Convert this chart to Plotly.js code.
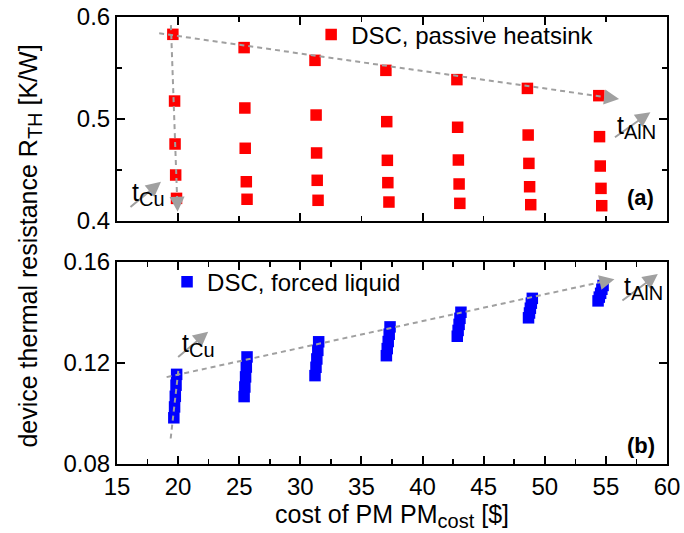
<!DOCTYPE html>
<html><head><meta charset="utf-8">
<script src="https://cdn.plot.ly/plotly-3.0.1.min.js"></script>
<style>html,body{margin:0;padding:0;background:#fff}</style>
</head><body><div id="chart" style="width:684px;height:533px"></div>
<script>
// Passive heatsink (top panel): 7 AlN thickness groups x 5 Cu thicknesses
const passiveCost = [
  19.57, 19.71, 19.75, 19.80, 19.87,
  25.40, 25.46, 25.49, 25.58, 25.64,
  31.20, 31.29, 31.33, 31.38, 31.45,
  37.00, 37.07, 37.12, 37.16, 37.25,
  42.81, 42.87, 42.93, 42.99, 43.05,
  48.58, 48.64, 48.70, 48.76, 48.85,
  54.42, 54.48, 54.54, 54.60, 54.66
];
const passiveRth = [
  0.583, 0.5176, 0.4755, 0.4451, 0.4222,
  0.570, 0.5108, 0.4713, 0.4385, 0.4213,
  0.5575, 0.5039, 0.4667, 0.4399, 0.4203,
  0.5477, 0.4974, 0.4595, 0.4376, 0.4186,
  0.5386, 0.4919, 0.4598, 0.4363, 0.4173,
  0.530, 0.4843, 0.4565, 0.4336, 0.4160,
  0.5229, 0.4827, 0.4539, 0.4320, 0.4150
];
// Forced liquid (bottom panel)
const liquidCost = [
  19.88, 19.83, 19.77, 19.71, 19.65,
  25.64, 25.58, 25.52, 25.46, 25.40,
  31.50, 31.43, 31.35, 31.28, 31.20,
  37.34, 37.27, 37.19, 37.11, 37.04,
  43.14, 43.06, 42.99, 42.91, 42.84,
  48.98, 48.90, 48.82, 48.75, 48.67,
  54.77, 54.67, 54.57, 54.46, 54.36
];
const liquidRth = [
  0.1155, 0.1112, 0.1068, 0.1026, 0.0983,
  0.1224, 0.1184, 0.1145, 0.1105, 0.1067,
  0.1284, 0.1250, 0.1216, 0.1183, 0.1150,
  0.1343, 0.1314, 0.1285, 0.1257, 0.1229,
  0.1401, 0.1377, 0.1353, 0.1329, 0.1306,
  0.1456, 0.1437, 0.1417, 0.1398, 0.1379,
  0.1507, 0.1492, 0.1476, 0.1461, 0.1446
];
const seriesNames = ['DSC, passive heatsink', 'DSC, forced liquid'];
const SUB = (s) => '<sub><span style="font-size:20px">' + s + '</span></sub>';
const xTitle = 'cost of PM PM' + SUB('cost') + ' [$]';
const yTitle = 'device thermal resistance R' + SUB('TH') + ' [K/W]';

const FONT = 'Liberation Sans, Arial, sans-serif';
const GREY = 'rgb(160,160,160)';

const traces = [
  {x: passiveCost, y: passiveRth, xaxis: 'x2', yaxis: 'y2', type: 'scatter', mode: 'markers',
   name: seriesNames[0], legend: 'legend',
   marker: {symbol: 'square', size: 11.5, color: '#ff0000', line: {width: 0}}},
  {x: liquidCost, y: liquidRth, xaxis: 'x', yaxis: 'y', type: 'scatter', mode: 'markers',
   name: seriesNames[1], legend: 'legend2',
   marker: {symbol: 'square', size: 11.5, color: '#0000ff', line: {width: 0}}}
];

const axBase = {
  showline: true, linewidth: 2, linecolor: '#000', mirror: 'ticks',
  ticks: 'inside', ticklen: 8, tickwidth: 2, tickcolor: '#000',
  showgrid: false, zeroline: false,
  tickfont: {family: FONT, size: 24, color: '#000'}
};

function dashLine(xr, yr, x0, y0, x1, y1) {
  return {type: 'line', xref: xr, yref: yr, x0: x0, y0: y0, x1: x1, y1: y1,
          layer: 'above', line: {color: GREY, width: 2, dash: '5px,4px'}};
}
function head(xr, yr, x, y, ax, ay) {
  return {xref: xr, yref: yr, axref: xr, ayref: yr, x: x, y: y, ax: ax, ay: ay,
          text: '', showarrow: true, arrowhead: 2, arrowsize: 1.5, arrowwidth: 2, arrowcolor: GREY};
}
function txt(xr, yr, x, y, t, opts) {
  return Object.assign({xref: xr, yref: yr, x: x, y: y, text: t, showarrow: false,
    xanchor: 'left', yanchor: 'middle', font: {family: FONT, size: 25, color: '#000'}}, opts || {});
}

const layout = {
  width: 684, height: 533,
  margin: {l: 117, r: 17, t: 17, b: 69},
  paper_bgcolor: '#fff', plot_bgcolor: '#fff',
  font: {family: FONT, color: '#000'},
  showlegend: true,
  xaxis: Object.assign({}, axBase, {
    domain: [0, 1], range: [15, 60], anchor: 'y', dtick: 5, tick0: 15,
    minor: {dtick: 2.5, ticks: 'inside', ticklen: 5, tickwidth: 1.5, tickcolor: '#000'},
    title: {text: xTitle, font: {family: FONT, size: 25, color: '#000'}, standoff: 2}
  }),
  xaxis2: Object.assign({}, axBase, {
    domain: [0, 1], range: [15, 60], anchor: 'y2', dtick: 10, tick0: 20,
    showticklabels: false,
    minor: {dtick: 5, ticks: 'inside', ticklen: 5, tickwidth: 1.5, tickcolor: '#000'}
  }),
  yaxis: Object.assign({}, axBase, {
    domain: [0, 0.4519], range: [0.08, 0.16], anchor: 'x', dtick: 0.04, tick0: 0.08,
    tickformat: '.2f'
  }),
  yaxis2: Object.assign({}, axBase, {
    domain: [0.5436, 1], range: [0.4, 0.6], anchor: 'x2', dtick: 0.1, tick0: 0.4,
    tickformat: '.1f',
    minor: {dtick: 0.05, ticks: 'inside', ticklen: 5, tickwidth: 1.5, tickcolor: '#000'}
  }),
  legend: {x: 0.353, y: 0.96, xanchor: 'left', yanchor: 'middle', bgcolor: 'rgba(0,0,0,0)',
           borderwidth: 0, font: {family: FONT, size: 24, color: '#000'}},
  legend2: {x: 0.091, y: 0.407, xanchor: 'left', yanchor: 'middle', bgcolor: 'rgba(0,0,0,0)',
            borderwidth: 0, font: {family: FONT, size: 24, color: '#000'}},
  shapes: [
    dashLine('x2', 'y2', 18.45, 0.584, 55.4, 0.5207),
    dashLine('x2', 'y2', 19.41, 0.592, 19.92, 0.422),
    dashLine('x', 'y', 19.06, 0.1144, 55.0, 0.1525),
    dashLine('x', 'y', 19.39, 0.0901, 20.03, 0.1175)
  ],
  annotations: [
    head('x2', 'y2', 56.08, 0.5196, 55.0, 0.5214),
    head('x2', 'y2', 19.96, 0.409, 19.915, 0.424),
    head('x', 'y', 55.7, 0.1532, 54.7, 0.1521),
    head('x', 'y', 20.10, 0.1203, 20.05, 0.1183),
    // t_Cu / t_AlN arrows
    head('x2', 'y2', 18.6, 0.4386, 15.98, 0.4125),
    head('x2', 'y2', 58.64, 0.5066, 55.62, 0.4811),
    head('x', 'y', 22.46, 0.1324, 19.88, 0.1219),
    head('x', 'y', 59.25, 0.1552, 56.23, 0.1443),
    txt('x2', 'y2', 16.06, 0.4265, 't' + SUB('Cu')),
    txt('x2', 'y2', 55.75, 0.4922, 't' + SUB('AlN')),
    txt('x', 'y', 20.15, 0.1271, 't' + SUB('Cu')),
    txt('x', 'y', 56.32, 0.1497, 't' + SUB('AlN')),
    txt('x2', 'y2', 57.87, 0.4235, '<b>(a)</b>', {xanchor: 'center', font: {family: FONT, size: 22, color: '#000'}}),
    txt('x', 'y', 57.87, 0.0875, '<b>(b)</b>', {xanchor: 'center', font: {family: FONT, size: 22, color: '#000'}}),
    {xref: 'paper', yref: 'paper', x: -0.158, y: 0.4866, xanchor: 'center', yanchor: 'middle',
     text: yTitle, textangle: -90, showarrow: false, font: {family: FONT, size: 25, color: '#000'}}
  ]
};

Plotly.newPlot('chart', traces, layout, {displayModeBar: false, staticPlot: true});
</script></body></html>
